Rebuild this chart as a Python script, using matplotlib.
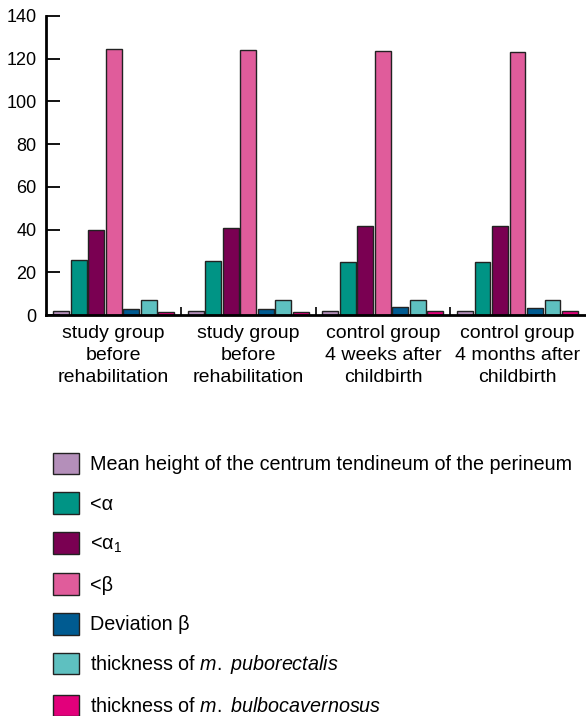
import numpy as np
import matplotlib
matplotlib.use("Agg")
import matplotlib.pyplot as plt
from matplotlib.patches import Patch

plt.rcParams['font.family'] = ['Liberation Sans', 'DejaVu Sans']
plt.rcParams['mathtext.fontset'] = 'custom'
plt.rcParams['mathtext.rm'] = 'Liberation Sans'
plt.rcParams['mathtext.it'] = 'Liberation Sans:italic'

# groups on the x axis
groups = ["study group\nbefore\nrehabilitation",
          "study group\nbefore\nrehabilitation",
          "control group\n4 weeks after\nchildbirth",
          "control group\n4 months after\nchildbirth"]

# series (one value per group)
mean_height = [1.8, 1.8, 1.9, 1.9]
alpha = [25.6, 25.3, 24.8, 24.8]
alpha1 = [39.8, 40.7, 41.7, 41.7]
beta = [124.6, 123.8, 123.6, 123.2]
dev_beta = [2.7, 3.0, 3.6, 3.3]
puborectalis = [6.9, 6.9, 6.9, 6.9]
bulbocav = [1.4, 1.5, 1.8, 2.1]

labels = ["Mean height of the centrum tendineum of the perineum",
          "<α",
          "<$\\mathregular{α_1}$",
          "<β",
          "Deviation β",
          "thickness of $\\it{m.}$ $\\it{puborectalis}$",
          "thickness of $\\it{m.}$ $\\it{bulbocavernosus}$"]
colors = ["#b48fba", "#009485", "#7a0052", "#e05c9b", "#005b91", "#5ec0c0", "#e2007b"]

series = [mean_height, alpha, alpha1, beta, dev_beta, puborectalis, bulbocav]

fig = plt.figure(figsize=(5.86, 7.16), dpi=100)
ax = fig.add_axes([0.079, 0.56, 0.919, 0.418])

x = np.arange(len(groups))
step = 0.13
width = 0.118
for i, (vals, c) in enumerate(zip(series, colors)):
    ax.bar(x + (i - 3) * step, vals, width, color=c, edgecolor="#222222", linewidth=1)

ax.set_xlim(-0.5, len(groups) - 0.5)
ax.set_ylim(0, 140)
ax.set_yticks(range(0, 141, 20))
ax.tick_params(axis='y', direction='in', length=10, width=1.3, labelsize=13, pad=7)
ax.set_xticks(x)
ax.set_xticklabels(groups, fontsize=14, linespacing=1.38)
ax.tick_params(axis='x', length=0, pad=7)
# small separators between groups
ax.set_xticks(x[:-1] + 0.5, minor=True)
ax.tick_params(axis='x', which='minor', direction='in', length=6, width=1.2)
for s in ['top', 'right']:
    ax.spines[s].set_visible(False)
ax.spines['left'].set_linewidth(2)
ax.spines['bottom'].set_linewidth(2)

handles = [Patch(facecolor=c, edgecolor="#222222", linewidth=1) for c in colors]
fig.legend(handles, labels, loc='upper left', bbox_to_anchor=(0.091, 0.368),
           frameon=False, fontsize=14.2, handlelength=1.3, handleheight=1.3,
           labelspacing=0.93, handletextpad=0.55, borderaxespad=0, borderpad=0)

fig.savefig("out.png", dpi=100)
